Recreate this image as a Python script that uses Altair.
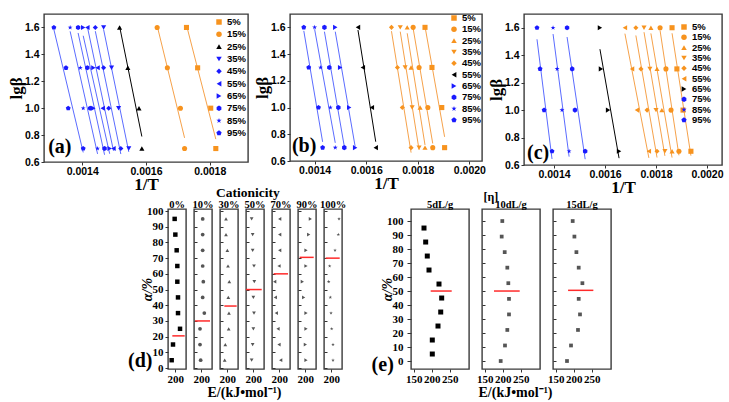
import altair as alt
import pandas as pd

# ---------------- styling ----------------
SERIF = "Liberation Serif"
SANS = "Liberation Sans"
ORANGE = "#F7931E"
ORANGE_LINE = "#F6A24B"
BLUE = "#1A1AFF"
BLUE_LINE = "#5B6CFF"
BLACK = "#000000"
GREY = "#555555"
RED = "#FF2A2A"

HEXAGON = "M0,-1L0.866,-0.5L0.866,0.5L0,1L-0.866,0.5L-0.866,-0.5Z"
STAR = ("M0,-1L0.2245,-0.309L0.951,-0.309L0.363,0.118L0.588,0.809L0,0.382"
        "L-0.588,0.809L-0.363,0.118L-0.951,-0.309L-0.2245,-0.309Z")
PENTAGON = "M0,-1L0.951,-0.309L0.588,0.809L-0.588,0.809L-0.951,-0.309Z"
MARKERS = ["square", "circle", "triangle-up", "triangle-down", "diamond",
           "triangle-left", "triangle-right", HEXAGON, STAR, PENTAGON]

# ---------------- (a)-(c): lg(beta) against 1/T ----------------
conversions = ["5%", "15%", "25%", "35%", "45%", "55%", "65%", "75%", "85%", "95%"]
lg_beta = [1.6, 1.3, 1.0, 0.7]

# (a) 1/T at lgβ = 1.6, 1.3, 1.0, 0.7
a_5 = [0.001727, 0.001762, 0.001803, 0.001819]
a_15 = [0.001635, 0.001667, 0.001708, 0.001721]
a_25 = [0.001517, 0.001543, 0.001578, 0.001587]
a_35 = [0.001467, 0.001492, 0.001514, 0.001546]
a_45 = [0.001441, 0.001467, 0.001483, 0.001521]
a_55 = [0.001416, 0.001448, 0.001464, 0.001498]
a_65 = [0.001403, 0.001435, 0.001435, 0.001486]
a_75 = [0.001387, 0.001416, 0.001425, 0.001470]
a_85 = [0.001362, 0.001394, 0.001403, 0.001448]
a_95 = [0.001311, 0.001349, 0.001356, 0.001403]

# (b)
b_5 = [0.001828, 0.001855, 0.001893, 0.001904]
b_15 = [0.001782, 0.001805, 0.001839, 0.001858]
b_25 = [0.001759, 0.001774, 0.001809, 0.001828]
b_35 = [0.001732, 0.001751, 0.001778, 0.001805]
b_45 = [0.001698, 0.001721, 0.001740, 0.001774]
b_55 = [0.001568, 0.001587, 0.001622, 0.001637]
b_65 = [0.001480, 0.001499, 0.001534, 0.001557]
b_75 = [0.001438, 0.001457, 0.001492, 0.001515]
b_85 = [0.001400, 0.001423, 0.001461, 0.001480]
b_95 = [0.001358, 0.001377, 0.001415, 0.001431]

# (c)
c_5 = [0.001863, 0.001882, 0.001906, 0.001937]
c_15 = [0.001816, 0.001839, 0.001859, 0.001890]
c_25 = [0.001780, 0.001804, 0.001823, 0.001863]
c_35 = [0.001753, 0.001776, 0.001800, 0.001835]
c_45 = [0.001721, 0.001741, 0.001765, 0.001804]
c_55 = [0.001678, 0.001706, 0.001725, 0.001772]
c_65 = [0.001580, 0.001584, 0.001612, 0.001655]
c_75 = [0.001451, 0.001471, 0.001482, 0.001522]
c_85 = [0.001396, 0.001412, 0.001431, 0.001459]
c_95 = [0.001333, 0.001345, 0.001361, 0.001392]

# ---------------- (d): activation energy by cationicity ----------------
cationicity = ["0%", "10%", "30%", "50%", "70%", "90%", "100%"]
d_alpha = [5, 15, 25, 35, 45, 55, 65, 75, 85, 95]
d_e_0 = [190.2, 193.9, 213.4, 207.8, 207.8, 205.9, 205.9, 204.1, 200.4, 198.5]
d_e_10 = [198.5, 196.7, 196.7, 208.7, 204.1, 205.9, 204.1, 204.1, 204.1, 204.1]
d_e_30 = [193.0, 194.8, 204.1, 204.9, 203.1, 205.9, 202.2, 200.4, 196.7, 196.7]
d_e_50 = [195.7, 198.5, 200.4, 202.2, 200.4, 203.1, 202.2, 198.5, 198.5, 195.7]
d_e_70 = [204.1, 199.5, 196.7, 192.0, 189.3, 187.4, 199.5, 201.3, 201.3, 201.3]
d_e_90 = [202.2, 200.4, 202.2, 202.2, 195.7, 192.0, 202.2, 202.2, 209.7, 214.3]
d_e_100 = [205.0, 205.0, 201.3, 199.5, 197.6, 193.0, 195.7, 210.6, 219.8, 221.7]
d_red_alpha = [20.5, 30, 39.5, 50, 60, 70.5, 70]
d_red_from = [192.0, 182.8, 192.0, 180.0, 184.6, 184.6, 184.6]
d_red_to = [226.3, 224.5, 226.3, 223.6, 224.5, 223.6, 223.6]
d_shapes = ["square", "circle", "triangle-up", "triangle-down",
            "triangle-left", "triangle-right", STAR]

# ---------------- (e): activation energy by intrinsic viscosity ----------------
viscosity = ["5dL/g", "10dL/g", "15dL/g"]
e_alpha_5 = [5, 15, 25, 35, 45, 55, 65, 75, 85, 95]
e_alpha_10 = [0, 11.1, 22.2, 33.3, 44.4, 55.6, 66.7, 77.8, 88.9, 100]
e_alpha_15 = [0, 11.1, 22.2, 33.3, 44.4, 55.6, 66.7, 77.8, 88.9, 100]
e_e_5 = [201.5, 201.5, 217.4, 225.0, 227.7, 220.2, 192.3, 187.5, 183.0, 178.3]
e_e_10 = [194.2, 206.2, 212.7, 217.4, 217.4, 215.5, 212.7, 205.4, 197.0, 198.7]
e_e_15 = [181.1, 192.3, 211.8, 217.4, 213.8, 224.1, 213.8, 207.4, 201.8, 197.0]
e_red_alpha = [50, 50, 50.5]
e_red_from = [197.0, 175.5, 184.1]
e_red_to = [255.7, 247.3, 254.7]


def spacer(w, h=1):
    return (
        alt.Chart(pd.DataFrame({"s": [0]}))
        .mark_point(opacity=0)
        .encode(x=alt.X("s:Q", axis=None), y=alt.Y("s:Q", axis=None))
        .properties(width=w, height=h, view=alt.ViewBackground(stroke=None))
    )


def kinetics_panel(columns, colors, line_colors, x_domain, x_ticks, width, height,
                   tag, tag_pos, key_x, key_top, key_bottom):
    records = []
    for name, col in zip(conversions, columns):
        for lb, inv in zip(lg_beta, col):
            records.append({"series": name, "lgb": lb, "inv": inv})
    df = pd.DataFrame(records)

    x = alt.X(
        "inv:Q", title="1/T",
        scale=alt.Scale(domain=x_domain, nice=False, zero=False),
        axis=alt.Axis(values=x_ticks, format=".4f", labelFont=SANS, labelFontWeight="bold",
                      labelFontSize=10.5, titleFont=SERIF, titleFontSize=17,
                      titleFontWeight="bold", tickSize=3, labelPadding=1, titlePadding=0,
                      labelFlush=False, labelOverlap=False),
    )
    y = alt.Y(
        "lgb:Q", title="lgβ",
        scale=alt.Scale(domain=[0.6, 1.7], nice=False, zero=False),
        axis=alt.Axis(values=[0.6, 0.8, 1.0, 1.2, 1.4, 1.6], format=".1f", labelFont=SANS,
                      labelFontWeight="bold", labelFontSize=10.5, titleFont=SERIF,
                      titleFontSize=17, titleFontWeight="bold", tickSize=3,
                      labelPadding=2, titlePadding=1, minExtent=18, maxExtent=18),
    )
    color = alt.Color("series:N", legend=None, scale=alt.Scale(domain=conversions, range=colors))
    shape = alt.Shape("series:N", legend=None, scale=alt.Scale(domain=conversions, range=MARKERS))

    # least-squares line of lgβ on 1/T for every conversion level
    fits = (
        alt.Chart(df)
        .transform_regression("inv", "lgb", groupby=["series"])
        .transform_calculate(fit="datum.series")
        .mark_line(strokeWidth=1)
        .encode(x=x, y=y,
                stroke=alt.Stroke("fit:N", legend=None,
                                  scale=alt.Scale(domain=conversions, range=line_colors)))
    )
    pts = alt.Chart(df).mark_point(filled=True, size=26, opacity=1).encode(
        x=x, y=y, color=color, shape=shape)
    lab = (
        alt.Chart(pd.DataFrame({"inv": [tag_pos[0]], "lgb": [tag_pos[1]], "t": [tag]}))
        .mark_text(align="left", baseline="middle", font=SERIF, fontSize=20, fontWeight="bold")
        .encode(x=x, y=y, text="t:N")
    )
    main = alt.layer(fits, pts, lab)

    # key: one row per conversion level, stacked by a point scale
    key_df = pd.DataFrame({"series": conversions})
    key_y = alt.Y("series:N", axis=None,
                  scale=alt.Scale(type="point", domain=conversions,
                                  range=[key_top, key_bottom], padding=0))
    key_sym = alt.Chart(key_df).mark_point(filled=True, size=30, opacity=1).encode(
        x=alt.value(key_x), y=key_y, color=color, shape=shape)
    key_txt = alt.Chart(key_df).mark_text(
        align="left", baseline="middle", font=SANS, fontWeight="bold", fontSize=9.5,
        color="black").encode(x=alt.value(key_x + 8), y=key_y, text="series:N")
    key = alt.layer(key_sym, key_txt)

    return alt.layer(main, key).resolve_scale(y="independent").properties(
        width=width, height=height)


O, K, B = ORANGE, BLACK, BLUE
OL, BL = ORANGE_LINE, BLUE_LINE

panel_a = kinetics_panel(
    [a_5, a_15, a_25, a_35, a_45, a_55, a_65, a_75, a_85, a_95],
    [O, O, K, B, B, B, B, B, B, B], [OL, OL, K, BL, BL, BL, BL, BL, BL, BL],
    [0.00128, 0.00192], [0.0014, 0.0016, 0.0018], 204, 148,
    "(a)", (0.001293, 0.71), 175, 8, 119)
panel_b = kinetics_panel(
    [b_5, b_15, b_25, b_35, b_45, b_55, b_65, b_75, b_85, b_95],
    [O, O, O, O, O, K, B, B, B, B], [OL, OL, OL, OL, OL, K, BL, BL, BL, BL],
    [0.0013045, 0.002049], [0.0014, 0.0016, 0.0018, 0.002], 192, 147,
    "(b)", (0.001312, 0.71), 164, 4, 106)
panel_c = kinetics_panel(
    [c_5, c_15, c_25, c_35, c_45, c_55, c_65, c_75, c_85, c_95],
    [O, O, O, O, O, O, K, B, B, B], [OL, OL, OL, OL, OL, OL, K, BL, BL, BL],
    [0.001282, 0.002059], [0.0014, 0.0016, 0.0018, 0.002], 198, 151,
    "(c)", (0.001294, 0.69), 160, 13, 106)

indep = dict(x="independent", y="independent", color="independent",
             shape="independent", stroke="independent")

top_row = alt.hconcat(panel_a, panel_b, panel_c, spacing=42, bounds="flush").resolve_scale(**indep)


def alpha_energy_panel(alpha, energy, red_alpha, red_from, red_to, x_domain, x_ticks,
                       y_domain, width, height, shape, color, size,
                       first=False, x_title=None, title_x=0, y_extent=10,
                       y_tick=3, y_pad=2, notes=()):
    df = pd.DataFrame({"alpha": alpha, "E": energy})
    red = pd.DataFrame({"alpha": [red_alpha], "E": [red_from], "E2": [red_to]})
    x_axis = dict(values=x_ticks, format="d", labelFont=SERIF, labelFontWeight="bold",
                  labelFontSize=11, tickSize=3, labelPadding=1, labelFlush=False,
                  labelOverlap=False, titleFont=SERIF, titleFontSize=14,
                  titleFontWeight="bold", titlePadding=1)
    if x_title:
        x_axis.update(titleX=title_x, titleAlign="center")
    x = alt.X("E:Q", title=x_title, scale=alt.Scale(domain=x_domain, nice=False, zero=False),
              axis=alt.Axis(**x_axis))
    ticks = list(range(0, 101, 10))
    if first:
        y_axis = alt.Axis(values=ticks, format="d", labelFont=SERIF, labelFontWeight="bold",
                          labelFontSize=11, tickSize=y_tick, labelPadding=y_pad,
                          titleFont=SERIF, titleFontSize=14, titleFontWeight="bold",
                          titleFontStyle="italic", titlePadding=0,
                          minExtent=y_extent, maxExtent=y_extent)
        y = alt.Y("alpha:Q", title="α/%", scale=alt.Scale(domain=y_domain, nice=False, zero=False),
                  axis=y_axis)
    else:
        y_axis = alt.Axis(values=ticks, labels=False, tickSize=3, offset=-3, title=None)
        y = alt.Y("alpha:Q", scale=alt.Scale(domain=y_domain, nice=False, zero=False), axis=y_axis)

    pts = alt.Chart(df).mark_point(filled=True, shape=shape, color=color, size=size,
                                   opacity=1).encode(x=x, y=y)
    rule = alt.Chart(red).mark_rule(color=RED, strokeWidth=1.5).encode(x=x, x2="E2:Q", y=y)
    layers = [pts, rule]
    for text, e_pos, a_pos, size_pt, align, baseline in notes:
        layers.append(
            alt.Chart(pd.DataFrame({"E": [e_pos], "alpha": [a_pos], "t": [text]}))
            .mark_text(align=align, baseline=baseline, font=SERIF, fontSize=size_pt,
                       fontWeight="bold")
            .encode(x=x, y=y, text="t:N")
        )
    return alt.layer(*layers).properties(width=width, height=height)


d_energy = [d_e_0, d_e_10, d_e_30, d_e_50, d_e_70, d_e_90, d_e_100]
d_panels = []
for i, cat in enumerate(cationicity):
    notes = [(cat, 205, 101.9, 10.5, "center", "alphabetic")]
    if i == 0:
        notes.append(("(d)", 69, 4.5, 20, "left", "middle"))
    if i == 3:
        notes.append(("Cationicity", 185.3, 111.6, 13.5, "center", "middle"))
    d_panels.append(alpha_energy_panel(
        d_alpha, d_energy[i], d_red_alpha[i], d_red_from[i], d_red_to[i],
        [180, 230], [200], [-0.6, 101.3], 18, 160, d_shapes[i],
        BLACK if i == 0 else GREY, 20 if i == 0 else 14,
        first=(i == 0),
        x_title="E/(kJ•mol⁻¹)" if i == 3 else None, title_x=-2,
        y_extent=14, y_tick=3, y_pad=2,
        notes=notes,
    ))

e_alphas = [e_alpha_5, e_alpha_10, e_alpha_15]
e_energy = [e_e_5, e_e_10, e_e_15]
e_panels = []
for i, name in enumerate(viscosity):
    notes = [(name, 223, 109.4, 10.5, "center", "alphabetic")]
    if i == 0:
        notes.append(("(e)", 32, -2.9, 20, "left", "middle"))
    if i == 1:
        notes.append(("[η]", 166.6, 117.2, 12, "center", "middle"))
    e_panels.append(alpha_energy_panel(
        e_alphas[i], e_energy[i], e_red_alpha[i], e_red_from[i], e_red_to[i],
        [142, 304], [150, 200, 250], [-5.7, 108.6], 58, 160, "square",
        BLACK if i == 0 else GREY, 25 if i == 0 else 14,
        first=(i == 0),
        x_title="E/(kJ•mol⁻¹)" if i == 1 else None, title_x=33,
        y_extent=17, y_tick=4, y_pad=4,
        notes=notes,
    ))

# one flat row; the blank spacers set the gaps between the small panels
row_items = [spacer(124)]
for i, p in enumerate(d_panels):
    if i:
        row_items.append(spacer(7.7))
    row_items.append(p)
row_items.append(spacer(69))
for i, p in enumerate(e_panels):
    if i:
        row_items.append(spacer(13))
    row_items.append(p)
bottom_row = alt.hconcat(*row_items, spacing=0, bounds="flush").resolve_scale(
    x="independent", y="independent")

chart = (
    alt.vconcat(top_row, bottom_row, spacing=-12)
    .resolve_scale(**indep)
    .properties(padding={"left": 6, "top": 12, "right": 5, "bottom": 5})
    .configure_view(stroke="#3a3a3a", strokeWidth=1.4)
    .configure_axis(labelColor="black", titleColor="black", tickColor="#333333",
                    grid=False, domain=False)
    .configure_title(color="black")
)

chart.save("out.html", embed_options={"renderer": "svg", "actions": False})
